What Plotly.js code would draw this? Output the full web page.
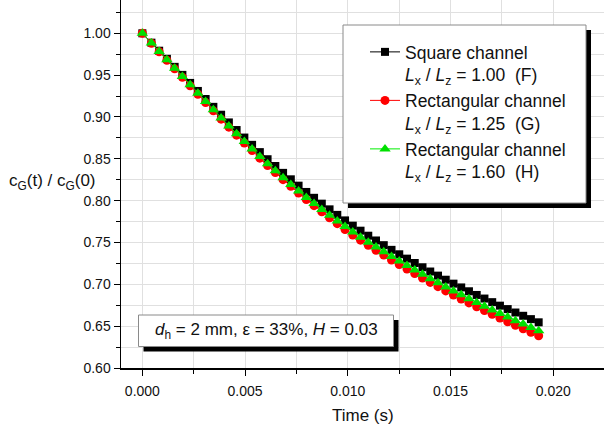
<!DOCTYPE html>
<html>
<head>
<meta charset="utf-8">
<script src="https://cdn.plot.ly/plotly-3.0.1.min.js"></script>
<style>html,body{margin:0;padding:0;background:#fff;}#chart{width:604px;height:425px;}</style>
</head>
<body>
<div id="chart"></div>
<script>
// Time (s)
var time = [0, 0.00044, 0.000817, 0.001194, 0.001571, 0.001948, 0.002325, 0.002702, 0.003079, 0.003456,
  0.003833, 0.00421, 0.004587, 0.004964, 0.005341, 0.005718, 0.006095, 0.006472, 0.006849, 0.007226,
  0.007603, 0.00798, 0.008357, 0.008734, 0.009111, 0.009488, 0.009865, 0.010242, 0.010619, 0.010996,
  0.011373, 0.01175, 0.012127, 0.012504, 0.012881, 0.013258, 0.013635, 0.014012, 0.014389, 0.014766,
  0.015143, 0.01552, 0.015897, 0.016274, 0.016651, 0.017028, 0.017405, 0.017782, 0.018159, 0.018536,
  0.018913, 0.01929];

// Square channel Lx/Lz = 1.00 (F)
var squareF = [1.000, 0.9888, 0.9792, 0.9695, 0.9599, 0.9503, 0.9407, 0.9311, 0.9215, 0.9121,
  0.9027, 0.8935, 0.8844, 0.8754, 0.8667, 0.8580, 0.8495, 0.8414, 0.8332, 0.8255,
  0.8179, 0.8104, 0.8034, 0.7964, 0.7896, 0.7830, 0.7764, 0.7701, 0.7641, 0.7581,
  0.7524, 0.7468, 0.7412, 0.7359, 0.7307, 0.7255, 0.7204, 0.7153, 0.7104, 0.7055,
  0.7008, 0.6963, 0.6917, 0.6873, 0.6830, 0.6787, 0.6745, 0.6704, 0.6663, 0.6624,
  0.6584, 0.6546];

// Rectangular channel Lx/Lz = 1.25 (G)
var rectG = [1.000, 0.9881, 0.9780, 0.9677, 0.9575, 0.9474, 0.9373, 0.9272, 0.9172, 0.9073,
  0.8974, 0.8878, 0.8783, 0.8689, 0.8599, 0.8508, 0.8419, 0.8335, 0.8251, 0.8171,
  0.8092, 0.8014, 0.7940, 0.7867, 0.7795, 0.7725, 0.7655, 0.7590, 0.7528, 0.7466,
  0.7407, 0.7349, 0.7291, 0.7236, 0.7183, 0.7129, 0.7076, 0.7023, 0.6972, 0.6921,
  0.6872, 0.6825, 0.6778, 0.6731, 0.6686, 0.6641, 0.6597, 0.6553, 0.6510, 0.6469,
  0.6426, 0.6386];

// Rectangular channel Lx/Lz = 1.60 (H)
var rectH = [1.000, 0.9884, 0.9784, 0.9683, 0.9583, 0.9484, 0.9384, 0.9284, 0.9184, 0.9086,
  0.8989, 0.8893, 0.8800, 0.8707, 0.8617, 0.8527, 0.8440, 0.8357, 0.8273, 0.8194,
  0.8116, 0.8039, 0.7967, 0.7895, 0.7825, 0.7758, 0.7690, 0.7625, 0.7564, 0.7504,
  0.7446, 0.7389, 0.7332, 0.7278, 0.7225, 0.7172, 0.7120, 0.7068, 0.7018, 0.6968,
  0.6920, 0.6874, 0.6827, 0.6782, 0.6738, 0.6694, 0.6651, 0.6609, 0.6566, 0.6526,
  0.6485, 0.6446];

var seriesNames = [
  'Square channel<br><i>L</i><sub>x</sub> / <i>L</i><sub>z</sub> = 1.00  (F)',
  'Rectangular channel<br><i>L</i><sub>x</sub> / <i>L</i><sub>z</sub> = 1.25  (G)',
  'Rectangular channel<br><i>L</i><sub>x</sub> / <i>L</i><sub>z</sub> = 1.60  (H)'
];
var xTitle = 'Time (s)';
var yTitle = 'c<sub>G</sub>(t) / c<sub>G</sub>(0)';
var infoText = '<i>d</i><sub>h</sub> = 2 mm, \u03b5 = 33%, <i>H</i> = 0.03';

var FONT = 'Liberation Sans, Arial, sans-serif';
var W = 604, H = 425, L = 121, R = 0, T = 0, B = 57;
var pw = W - L - R, ph = H - T - B;
function px(x) { return (x - L) / pw; }
function py(y) { return (H - B - y) / ph; }

var traces = [
  {x: time, y: squareF, name: seriesNames[0], legendgroup: 'a', type: 'scatter', mode: 'lines+markers',
   line: {color: '#000000', width: 1}, marker: {symbol: 'square', size: 8, color: '#000000'}},
  {x: time, y: rectG, name: seriesNames[1], legendgroup: 'b', type: 'scatter', mode: 'lines+markers',
   line: {color: '#ff0000', width: 1}, marker: {symbol: 'circle', size: 9, color: '#ff0000'}},
  {x: time, y: rectH, name: seriesNames[2], legendgroup: 'c', type: 'scatter', mode: 'lines+markers',
   line: {color: '#00ee00', width: 1}, marker: {symbol: 'triangle-up', size: 10, color: '#00e000'}}
];

var gridc = '#e0e0e0';
var layout = {
  width: W, height: H,
  margin: {l: L, r: R, t: T, b: B, pad: 0},
  paper_bgcolor: '#ffffff', plot_bgcolor: '#ffffff',
  font: {family: FONT, size: 14, color: '#111111'},
  showlegend: true,
  legend: {
    x: px(365), y: py(34), xanchor: 'left', yanchor: 'top',
    bgcolor: 'rgba(0,0,0,0)', borderwidth: 0,
    font: {family: FONT, size: 17.5, color: '#111111'},
    valign: 'top', tracegroupgap: 3, traceorder: 'normal'
  },
  xaxis: {
    range: [-0.00104, 0.02247], showline: true, linecolor: '#000', linewidth: 1.5,
    ticks: 'outside', ticklen: 6, tickwidth: 1, tickcolor: '#000',
    tick0: 0, dtick: 0.005, tickformat: '.3f', ticklabelstandoff: 4,
    showgrid: true, gridcolor: gridc, gridwidth: 1, zeroline: false,
    tickfont: {family: FONT, size: 14, color: '#111'},
    minor: {dtick: 0.0025, ticks: 'outside', ticklen: 4, tickcolor: '#000', showgrid: true, gridcolor: gridc, gridwidth: 1}
  },
  yaxis: {
    range: [0.6, 1.0398], showline: true, linecolor: '#000', linewidth: 1.5,
    ticks: 'outside', ticklen: 6, tickwidth: 1, tickcolor: '#000',
    tick0: 0.6, dtick: 0.05, tickformat: '.2f',
    showgrid: true, gridcolor: gridc, gridwidth: 1, zeroline: false,
    tickfont: {family: FONT, size: 14, color: '#111'},
    minor: {dtick: 0.025, ticks: 'outside', ticklen: 4, tickcolor: '#000', showgrid: true, gridcolor: gridc, gridwidth: 1}
  },
  shapes: [
    {type: 'rect', xref: 'paper', yref: 'paper', x0: px(348), x1: px(591), y0: py(208), y1: py(30),
     fillcolor: '#000', line: {width: 0}, layer: 'above'},
    {type: 'rect', xref: 'paper', yref: 'paper', x0: px(343), x1: px(586), y0: py(203), y1: py(25),
     fillcolor: '#fff', line: {color: '#8a8a8a', width: 1}, layer: 'above'},
    {type: 'rect', xref: 'paper', yref: 'paper', x0: px(143.5), x1: px(398.5), y0: py(351.5), y1: py(320),
     fillcolor: '#000', line: {width: 0}, layer: 'above'},
    {type: 'rect', xref: 'paper', yref: 'paper', x0: px(138.5), x1: px(393.5), y0: py(346.5), y1: py(315),
     fillcolor: '#fff', line: {color: '#8a8a8a', width: 1}, layer: 'above'}
  ],
  annotations: [
    {text: xTitle, xref: 'paper', yref: 'paper', x: 0.5, y: py(415), xanchor: 'center', yanchor: 'middle',
     showarrow: false, font: {family: FONT, size: 17, color: '#111'}},
    {text: yTitle, xref: 'paper', yref: 'paper', x: px(52), y: py(182), xanchor: 'center', yanchor: 'middle',
     showarrow: false, font: {family: FONT, size: 17, color: '#111'}},
    {text: infoText, xref: 'paper', yref: 'paper', x: px(266), y: py(331), xanchor: 'center', yanchor: 'middle',
     showarrow: false, font: {family: FONT, size: 17, color: '#111'}}
  ]
};

Plotly.newPlot('chart', traces, layout, {displayModeBar: false, staticPlot: true});
</script>
</body>
</html>
